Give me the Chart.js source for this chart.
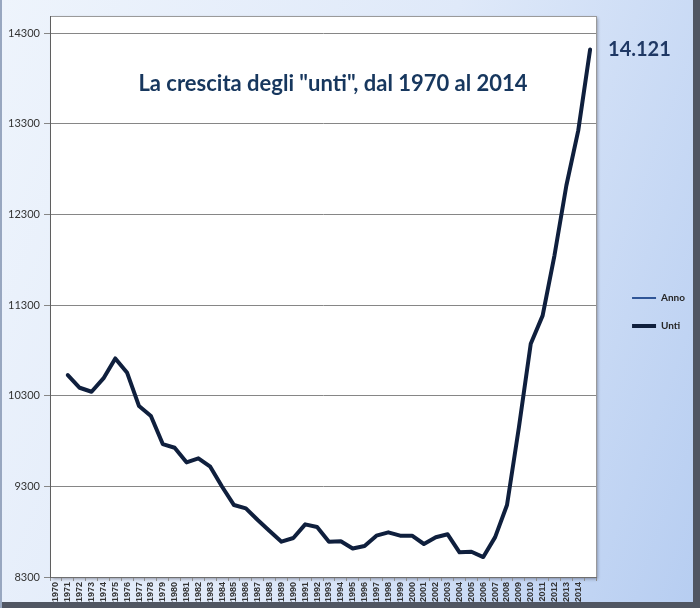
<!DOCTYPE html>
<html>
<head>
<meta charset="utf-8">
<script src="https://cdn.jsdelivr.net/npm/chart.js@4"></script>
<style>
  html, body { margin: 0; padding: 0; }
  #frame {
    position: relative;
    width: 700px;
    height: 608px;
    background: linear-gradient(110deg, #eef4fc 0%, #dfe9f9 50%, #b6cdf1 100%);
    box-shadow: inset 2px 0 0 #98a7c0, inset -7px 0 0 #505662, inset 0 -6px 0 #505662;
  }
  canvas { position: absolute; left: 0; top: 0; }
</style>
</head>
<body>
<div id="frame"><canvas id="chart" width="700" height="608"></canvas></div>
<script>
const years = [
  "1970", "1971", "1972", "1973", "1974", "1975", "1976", "1977", "1978", "1979",
  "1980", "1981", "1982", "1983", "1984", "1985", "1986", "1987", "1988", "1989",
  "1990", "1991", "1992", "1993", "1994", "1995", "1996", "1997", "1998", "1999",
  "2000", "2001", "2002", "2003", "2004", "2005", "2006", "2007", "2008", "2009",
  "2010", "2011", "2012", "2013", "2014",
];

// valori (unti)
const untiValues = [
  10528, 10388, 10344, 10491, 10712, 10553, 10186, 10076, 9767, 9726,
  9565, 9609, 9517, 9296, 9094, 9057, 8929, 8807, 8690, 8730,
  8881, 8851, 8690, 8694, 8615, 8642, 8756, 8793, 8756, 8756,
  8664, 8738, 8771, 8572, 8579, 8520, 8740, 9094, 9950, 10874,
  11184, 11850, 12620, 13225, 14121,
];

// the "Anno" series is the year column itself, it sits far below the axis floor
const annoValues = years.map(Number);

const yTicks = [8300, 9300, 10300, 11300, 12300, 13300, 14300];

const titleText = 'La crescita degli "unti", dal 1970 al 2014';

// in the original sheet the series is one category to the right of its labels
const xLabels = [...years, ""];
const untiData = [null, ...untiValues];
const annoData = [null, ...annoValues];

const navy = "#0f1f3d";
const titleColor = "#17375e";

const plotFrame = {
  id: "plotFrame",
  beforeDraw(chart) {
    const { ctx, chartArea: a } = chart;
    ctx.save();
    ctx.shadowColor = "rgba(40, 40, 60, 0.45)";
    ctx.shadowOffsetX = 2;
    ctx.shadowOffsetY = 2;
    ctx.shadowBlur = 3;
    ctx.fillStyle = "#ffffff";
    ctx.fillRect(a.left, a.top, a.right - a.left, a.bottom - a.top);
    ctx.restore();
    ctx.save();
    ctx.strokeStyle = "#9a9a9a";
    ctx.lineWidth = 1;
    ctx.strokeRect(a.left + 0.5, a.top + 0.5, a.right - a.left, a.bottom - a.top);
    ctx.restore();
  },
  afterLayout(chart) {
    // push the legend a bit away from the plot area
    chart.legend.left += 18;
    chart.legend.right += 18;
  },
  afterDraw(chart) {
    const { ctx, chartArea: a } = chart;
    ctx.save();
    ctx.fillStyle = titleColor;
    ctx.font = "bold 22px Lato";
    ctx.textAlign = "center";
    ctx.textBaseline = "alphabetic";
    ctx.fillText(titleText, 333, 91);

    const last = untiValues[untiValues.length - 1];
    ctx.font = "bold 20px Lato";
    ctx.textAlign = "left";
    ctx.fillStyle = "#1f3864";
    ctx.fillText(last.toLocaleString("it-IT"), a.right + 12, 56);
    ctx.restore();
  },
};

new Chart(document.getElementById("chart"), {
  type: "line",
  data: {
    labels: xLabels,
    datasets: [
      {
        label: "Anno",
        data: annoData,
        borderColor: "#2f5597",
        backgroundColor: "#2f5597",
        borderWidth: 2,
        pointRadius: 0,
      },
      {
        label: "Unti",
        data: untiData,
        borderColor: navy,
        backgroundColor: navy,
        borderWidth: 4,
        borderJoinStyle: "round",
        borderCapStyle: "round",
        tension: 0,
        pointRadius: 0,
      },
    ],
  },
  options: {
    responsive: false,
    animation: false,
    layout: {
      padding: { top: 16, right: 23, bottom: 0, left: 0 },
    },
    plugins: {
      title: { display: false },
      tooltip: { enabled: false },
      legend: {
        position: "right",
        align: "center",
        labels: {
          usePointStyle: true,
          pointStyle: "line",
          pointStyleWidth: 24,
          padding: 18,
          color: "#262626",
          font: { family: "Lato", size: 10, weight: "bold" },
        },
      },
    },
    scales: {
      x: {
        type: "category",
        offset: true,
        afterFit: (scale) => {
          scale.height = 31;
        },
        grid: {
          offset: true,
          drawOnChartArea: false,
          drawTicks: true,
          tickLength: 4,
          color: "#8c8c8c",
        },
        border: { color: "#6f6f6f" },
        ticks: {
          autoSkip: false,
          minRotation: 90,
          maxRotation: 90,
          padding: 1,
          color: "#333333",
          font: { family: "Liberation Sans", size: 9, weight: "bold" },
        },
      },
      y: {
        min: 8300,
        max: 14490,
        afterBuildTicks: (scale) => {
          scale.ticks = yTicks.map((value) => ({ value }));
        },
        afterFit: (scale) => {
          scale.width = 50;
        },
        grid: {
          color: "#868686",
          tickLength: 6,
        },
        border: { color: "#5f5f5f" },
        ticks: {
          padding: 4,
          color: "#333333",
          font: { family: "Lato", size: 11 },
          callback: (value) => String(value),
        },
      },
    },
  },
  plugins: [plotFrame],
});
</script>
</body>
</html>
